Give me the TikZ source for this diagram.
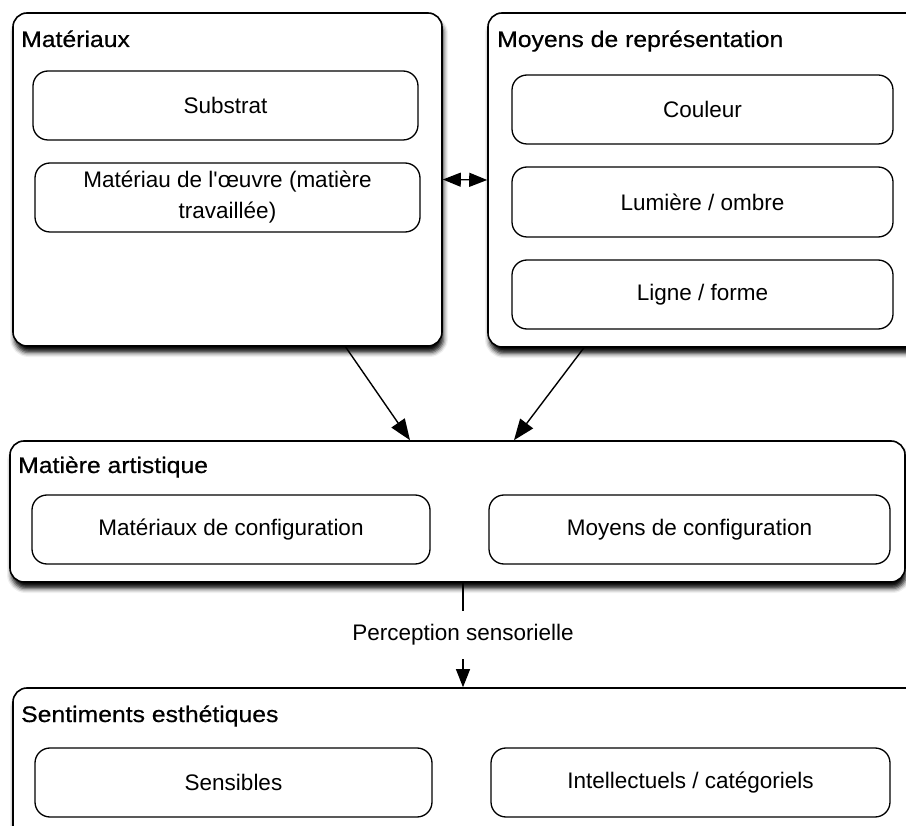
\documentclass[tikz,border=0pt]{standalone}
\usepackage{fontspec}
\newfontfamily\bodyf{Liberation Sans}
\newfontfamily\titlef{Liberation Sans}[FakeBold=0.5,FakeStretch=1.1]
\usetikzlibrary{calc,arrows.meta,shadows.blur}
\begin{document}
\begin{tikzpicture}[x=1pt,y=-1pt,
  outerbox/.style={draw=black, line width=1.6pt, rounded corners=14pt, fill=white, inner sep=0pt,
    blur shadow={shadow xshift=1.5pt, shadow yshift=-6.5pt, shadow blur radius=4.5pt, shadow opacity=95}},
  innerbox/.style={draw=black, line width=1.3pt, rounded corners=15pt, fill=white, inner sep=0pt,
    align=center, font=\bodyf\fontsize{22.5}{31}\selectfont},
  boxtitle/.style={anchor=base west, inner sep=0pt, font=\titlef\fontsize{22.5}{26}\selectfont},
  conn/.style={line width=1.4pt, draw=black},
  bigtip/.tip={Triangle[length=21pt,width=16pt]},
  smalltip/.tip={Triangle[length=18pt,width=14pt]}
]
\useasboundingbox (0,0) rectangle (906,826);
\clip (0,0) rectangle (906,826);

% outer boxes
\node[outerbox, minimum width=429pt, minimum height=333pt] (A) at (227.5,179.5) {};
\node[outerbox, minimum width=442pt, minimum height=334pt] (B) at (709,180) {};
\node[outerbox, minimum width=895pt, minimum height=141pt] (C) at (457.5,511.5) {};
\node[outerbox, minimum width=917pt, minimum height=162pt] (D) at (471.5,769) {};

% titles
\node[boxtitle] (tA) at (21,47) {Matériaux};
\node[boxtitle] (tB) at (497,47) {Moyens de représentation};
\node[boxtitle] (tC) at (18,473) {Matière artistique};
\node[boxtitle] (tD) at (21,722) {Sentiments esthétiques};

% inner boxes
\node[innerbox, minimum width=385pt, minimum height=69pt] (sub) at (225.5,105.5) {Substrat};
\node[innerbox, minimum width=385pt, minimum height=69pt] (mat) at (227.5,197.5) {Matériau de l'œuvre (matière\\travaillée)};
\node[innerbox, minimum width=381pt, minimum height=69pt] (cou) at (702.5,109.5) {Couleur};
\node[innerbox, minimum width=381pt, minimum height=70pt] (lum) at (702.5,202) {Lumière / ombre};
\node[innerbox, minimum width=381pt, minimum height=69pt] (lig) at (702.5,294.5) {Ligne / forme};
\node[innerbox, minimum width=398pt, minimum height=69pt] (mc) at (231,529.5) {Matériaux de configuration};
\node[innerbox, minimum width=401pt, minimum height=69pt] (moc) at (689.5,529.5) {Moyens de configuration};
\node[innerbox, minimum width=397pt, minimum height=69pt] (sen) at (233.5,782.5) {Sensibles};
\node[innerbox, minimum width=399pt, minimum height=69pt] (int) at (690.5,782.5) {Intellectuels / catégoriels};

% connectors
\draw[conn, {smalltip}-{smalltip}] (A.east) -- (B.west);
\draw[conn, -{bigtip}] ($(A.south west)!0.774!(A.south east)$) -- ($(C.north west)!0.447!(C.north east)$);
\draw[conn, -{bigtip}] ($(B.south west)!0.218!(B.south east)$) -- ($(C.north west)!0.563!(C.north east)$);

\coordinate (pc) at (463,0);
\draw[conn, line width=1.2pt, -{smalltip}] (C.south -| pc) -- node[fill=white, inner xsep=4pt, inner ysep=13.5pt, font=\bodyf\fontsize{22.5}{26}\selectfont] (perc) {Perception sensorielle} (D.north -| pc);
\end{tikzpicture}
\end{document}
